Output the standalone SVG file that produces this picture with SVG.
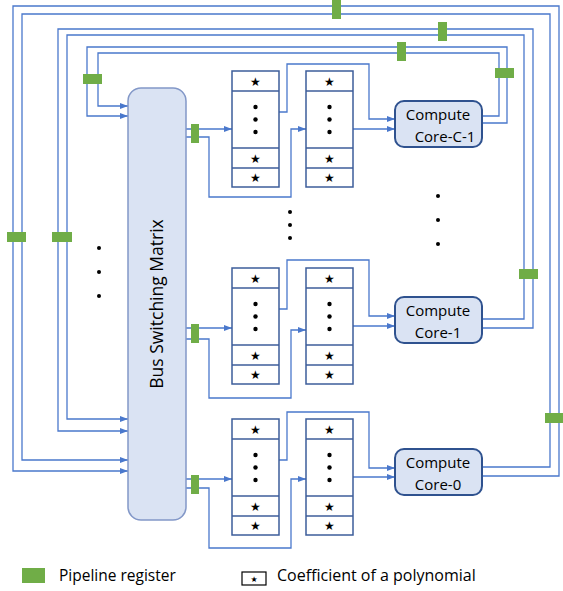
<svg xmlns="http://www.w3.org/2000/svg" width="563" height="591" viewBox="0 0 563 591">
  <style>
    .wire { fill: none; stroke: #4A78CC; stroke-width: 1.3; }
    .arr { marker-end: url(#ah); }
    .reg { fill: #70AD47; }
    .mem { fill: #FFFFFF; stroke: #3D5D9A; stroke-width: 1.5; }
    .sep { stroke: #3D5D9A; stroke-width: 1.5; }
    .core { fill: #DAE3F3; stroke: #2F528F; stroke-width: 2; }
    .bus { fill: #DAE3F3; stroke: #8398C8; stroke-width: 1.5; }
    .lbl { font-family: "Open Sans", "Noto Sans", sans-serif; fill: #000; }
    .star { font-family: "DejaVu Sans", sans-serif; font-size: 12px; text-anchor: middle; fill: #000; }
    .dot { fill: #000; }
  </style>
  <defs>
    <marker id="ah" viewBox="0 0 8 6" refX="8" refY="3" markerWidth="8" markerHeight="6" markerUnits="userSpaceOnUse" orient="auto">
      <path d="M0,0 L8,3 L0,6 z" fill="#4A78CC"/>
    </marker>
    <!-- one memory column: coefficient slots, dots for the middle ones -->
    <g id="memcol">
      <rect class="mem" x="0" y="0" width="47" height="116"/>
      <line class="sep" x1="0" y1="20" x2="47" y2="20"/>
      <line class="sep" x1="0" y1="77" x2="47" y2="77"/>
      <line class="sep" x1="0" y1="97" x2="47" y2="97"/>
      <text class="star" x="23.5" y="14.5">★</text>
      <circle class="dot" cx="23.5" cy="36" r="2.2"/>
      <circle class="dot" cx="23.5" cy="48.5" r="2.2"/>
      <circle class="dot" cx="23.5" cy="61" r="2.2"/>
      <text class="star" x="23.5" y="91.5">★</text>
      <text class="star" x="23.5" y="110.5">★</text>
    </g>
  </defs>

  <!-- connectors -->
  <g id="connectors">
    <!-- feedback from compute cores to the switching matrix -->
    <path class="wire arr" d="M482,116 H499 V53 H98 V106 H128"/>
    <path class="wire arr" d="M482,123 H507 V47 H87 V116 H128"/>
    <path class="wire arr" d="M482,319 H524 V35 H67 V419 H128"/>
    <path class="wire arr" d="M482,328 H533 V29 H58 V431 H128"/>
    <path class="wire arr" d="M482,467 H550 V14 H22 V460 H128"/>
    <path class="wire arr" d="M482,476 H559 V6 H13 V471 H128"/>

    <!-- lane C-1 -->
    <path class="wire arr" d="M186,129 H232"/>
    <path class="wire arr" d="M186,137 H209 V197 H291 V129 H306"/>
    <path class="wire arr" d="M279,112 H287 V64 H369 V119 H395"/>
    <path class="wire arr" d="M353,129 H395"/>

    <!-- lane 1 -->
    <path class="wire arr" d="M186,328 H232"/>
    <path class="wire arr" d="M186,339 H209 V398 H291 V330 H306"/>
    <path class="wire arr" d="M279,309 H287 V260 H369 V316 H395"/>
    <path class="wire arr" d="M353,326 H395"/>

    <!-- lane 0 -->
    <path class="wire arr" d="M186,479 H232"/>
    <path class="wire arr" d="M186,488 H209 V548 H291 V479 H306"/>
    <path class="wire arr" d="M279,460 H287 V412 H369 V468 H395"/>
    <path class="wire arr" d="M353,477 H395"/>
  </g>

  <!-- pipeline registers -->
  <g id="registers">
    <rect class="reg" x="495" y="68" width="19" height="10"/>
    <rect class="reg" x="397" y="42" width="9" height="19"/>
    <rect class="reg" x="83" y="74" width="19" height="10"/>
    <rect class="reg" x="519" y="269" width="19" height="10"/>
    <rect class="reg" x="438" y="22" width="9" height="19"/>
    <rect class="reg" x="52" y="232" width="20" height="10"/>
    <rect class="reg" x="545" y="413" width="19" height="10"/>
    <rect class="reg" x="332" y="-1" width="9" height="20"/>
    <rect class="reg" x="7" y="232" width="19" height="10"/>
    <rect class="reg" x="191" y="124" width="8" height="19"/>
    <rect class="reg" x="191" y="324" width="8" height="19"/>
    <rect class="reg" x="191" y="475" width="8" height="19"/>
  </g>

  <!-- switching matrix -->
  <g id="bus-matrix">
    <rect class="bus" x="128" y="88" width="58" height="432" rx="13"/>
    <text class="lbl" font-size="17.5" text-anchor="middle" transform="translate(163,304) rotate(-90)">Bus Switching Matrix</text>
  </g>

  <!-- memory columns -->
  <g id="mem-c1a"><use href="#memcol" x="232" y="71"/></g>
  <g id="mem-c1b"><use href="#memcol" x="306" y="71"/></g>
  <g id="mem-1a"><use href="#memcol" x="232" y="268"/></g>
  <g id="mem-1b"><use href="#memcol" x="306" y="268"/></g>
  <g id="mem-0a"><use href="#memcol" x="232" y="419"/></g>
  <g id="mem-0b"><use href="#memcol" x="306" y="419"/></g>

  <!-- compute cores -->
  <g id="core-c1">
    <rect class="core" x="395" y="101" width="87" height="46" rx="9"/>
    <text class="lbl" font-size="15" x="438" y="120" text-anchor="middle">Compute</text>
    <text class="lbl" font-size="15" x="445" y="142" text-anchor="middle">Core-C-1</text>
  </g>
  <g id="core-1">
    <rect class="core" x="395" y="297" width="87" height="46" rx="9"/>
    <text class="lbl" font-size="15" x="438" y="316" text-anchor="middle">Compute</text>
    <text class="lbl" font-size="15" x="438" y="338" text-anchor="middle">Core-1</text>
  </g>
  <g id="core-0">
    <rect class="core" x="395" y="449" width="87" height="46" rx="9"/>
    <text class="lbl" font-size="15" x="438" y="468" text-anchor="middle">Compute</text>
    <text class="lbl" font-size="15" x="438" y="490" text-anchor="middle">Core-0</text>
  </g>

  <!-- ellipsis markers for omitted lanes -->
  <g id="ellipses">
    <circle class="dot" cx="99" cy="248" r="2"/>
    <circle class="dot" cx="99" cy="272" r="2"/>
    <circle class="dot" cx="99" cy="296" r="2"/>
    <circle class="dot" cx="290" cy="212" r="2"/>
    <circle class="dot" cx="290" cy="225" r="2"/>
    <circle class="dot" cx="290" cy="238" r="2"/>
    <circle class="dot" cx="438" cy="196" r="2"/>
    <circle class="dot" cx="438" cy="220" r="2"/>
    <circle class="dot" cx="438" cy="244" r="2"/>
  </g>

  <!-- legend -->
  <g id="legend">
    <rect class="reg" x="22" y="568" width="23" height="15"/>
    <text class="lbl" font-size="15.5" x="59" y="581">Pipeline register</text>
    <rect x="242" y="572" width="24" height="13" fill="#fff" stroke="#000" stroke-width="1.2"/>
    <text class="star" style="font-size:8px" x="254" y="582">★</text>
    <text class="lbl" font-size="16" x="277" y="581">Coefficient of a polynomial</text>
  </g>
</svg>
